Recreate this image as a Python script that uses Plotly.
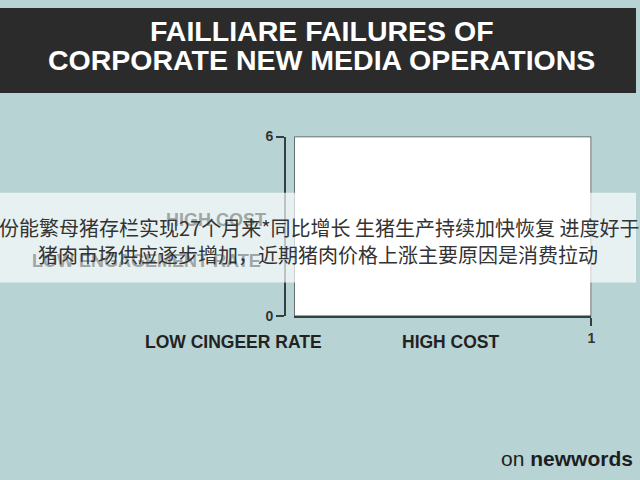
import plotly.graph_objects as go

# ---- data ----
bar_x = [0.5]
bar_values = [6]
y_tickvals = [0, 6]
x_tickvals = [1]
x_ticktext = ["1"]
title_lines = ["FAILLIARE FAILURES OF", "CORPORATE NEW MEDIA OPERATIONS"]
category_labels = ["LOW CINGEER RATE", "HIGH COST"]
hidden_labels = ["HIGH COST", "LOW ENGAGEMENT RATE"]
overlay_lines = [
    "份能繁母猪存栏实现27个月来*同比增长 生猪生产持续加快恢复 进度好于预期",
    "猪肉市场供应逐步增加，近期猪肉价格上涨主要原因是消费拉动",
]
brand = "on <b>newwords</b>"

W, H = 640, 480
BG = "#b8d3d3"
DARK = "#2b2b2b"
AX = "#34403f"


def px(x):
    return x / W


def py(y):
    return 1 - y / H


fig = go.Figure()
fig.add_trace(go.Bar(
    x=bar_x, y=bar_values, width=1,
    marker=dict(color="white", line=dict(color="#3c4848", width=1.5)),
    showlegend=False, hoverinfo="skip",
))

fig.update_layout(
    width=W, height=H,
    margin=dict(l=0, r=0, t=0, b=0),
    paper_bgcolor=BG, plot_bgcolor="rgba(0,0,0,0)",
    xaxis=dict(
        domain=[px(296), px(595)], range=[0, 1],
        showgrid=False, zeroline=False,
        showline=True, linecolor=AX, linewidth=2,
        tickmode="array", tickvals=x_tickvals, ticktext=x_ticktext,
        ticks="outside", ticklen=8, tickwidth=2, tickcolor=AX,
        tickfont=dict(family="Liberation Sans", size=14, color="#333", weight="bold"),
        fixedrange=True,
    ),
    yaxis=dict(
        domain=[py(319), py(133)], range=[0, 6],
        anchor="free", position=px(287),
        showgrid=False, zeroline=False,
        showline=True, linecolor=AX, linewidth=2,
        tickmode="array", tickvals=y_tickvals,
        ticks="outside", ticklen=8, tickwidth=2, tickcolor=AX,
        tickfont=dict(family="Liberation Sans", size=14, color="#333", weight="bold"),
        fixedrange=True,
    ),
)

shapes = [
    dict(type="rect", xref="paper", yref="paper", x0=0, x1=1, y0=py(88), y1=1,
         fillcolor=DARK, line=dict(width=0), layer="below"),
    dict(type="rect", xref="paper", yref="paper", x0=0, x1=1, y0=py(284), y1=py(191),
         fillcolor="rgba(255,255,255,0.68)", line=dict(width=0), layer="above"),
]
fig.update_layout(shapes=shapes)

ann = []
# title
for t, yc in zip(title_lines, [24, 54]):
    ann.append(dict(text=t, x=px(324), y=py(yc), xref="paper", yref="paper",
                    showarrow=False, xanchor="center", yanchor="middle",
                    font=dict(family="Liberation Sans", size=28.5, color="white", weight="bold")))
# category labels
for t, xc in zip(category_labels, [235, 454]):
    ann.append(dict(text=t, x=px(xc), y=py(345), xref="paper", yref="paper",
                    showarrow=False, xanchor="center", yanchor="middle",
                    font=dict(family="Liberation Sans", size=17.5, color="#222", weight="bold")))
# faded labels under overlay
for t, xc, yc in zip(hidden_labels, [217, 147], [219, 262]):
    ann.append(dict(text=t, x=px(xc), y=py(yc), xref="paper", yref="paper",
                    showarrow=False, xanchor="center", yanchor="middle",
                    font=dict(family="Liberation Sans", size=18, color="#9ea6a6", weight="bold")))
# overlay chinese text
ann.append(dict(text=overlay_lines[0], x=px(-3), y=py(227), xref="paper", yref="paper",
                showarrow=False, xanchor="left", yanchor="middle",
                font=dict(family="Noto Sans CJK SC", size=20, color="#333")))
ann.append(dict(text=overlay_lines[1], x=px(320), y=py(255), xref="paper", yref="paper",
                showarrow=False, xanchor="center", yanchor="middle",
                font=dict(family="Noto Sans CJK SC", size=20, color="#333")))
# brand
ann.append(dict(text=brand, x=px(639), y=py(466), xref="paper", yref="paper",
                showarrow=False, xanchor="right", yanchor="middle",
                font=dict(family="Liberation Sans", size=21, color="#1e1e1e")))
fig.update_layout(annotations=ann)

fig.write_html(
    "out.html",
    config={"displayModeBar": False},
    post_script="document.body.style.margin='0';document.body.style.overflow='hidden';",
)
